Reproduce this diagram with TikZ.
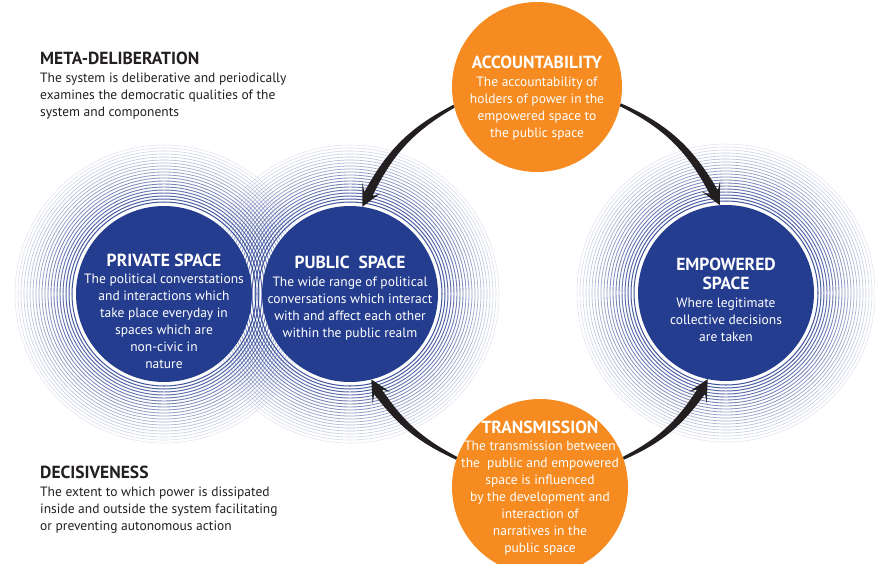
\documentclass[tikz,border=0pt]{standalone}
\usepackage{fontspec}
\setmainfont{PT Sans}
\usetikzlibrary{calc,positioning}

\definecolor{spaceblue}{RGB}{37,61,143}
\definecolor{linkorange}{RGB}{245,139,33}
\definecolor{ink}{RGB}{35,31,32}

\newcommand{\headfont}{\bfseries\fontsize{17.5}{19}\selectfont}
\newcommand{\bodyfont}{\fontsize{13.5}{17}\selectfont}

\pgfdeclarelayer{rings}
\pgfdeclarelayer{arrows}
\pgfsetlayers{rings,arrows,main}

% tapered arrow bending round the hub: tail, tip, turn, out bend, back bend
\newcommand{\swoosh}[5]{%
  \coordinate (sw-tip) at (#2);
  \coordinate (sw-base) at ($(sw-tip)!14pt!#3:(hub)$);
  \coordinate (sw-barb) at ($(sw-tip)!21pt!#3:(hub)$);
  \fill[ink] ($(#1)!-1.5pt!(hub)$) to[#4] ($(sw-base)!-4.5pt!(hub)$)
    -- ($(sw-barb)!-10.5pt!(hub)$) -- (sw-tip) -- ($(sw-barb)!10.5pt!(hub)$)
    -- ($(sw-base)!4.5pt!(hub)$) to[#5] ($(#1)!1.5pt!(hub)$) -- cycle;
}

\begin{document}
\begin{tikzpicture}[x=1pt, y=-1pt,
  bluedisc/.style={circle, fill=spaceblue, minimum size=176pt, inner sep=0pt, outer sep=0pt},
  orangedisc/.style={circle, fill=linkorange, minimum size=176pt, inner sep=0pt, outer sep=0pt},
  disctext/.style={text=white, align=center, font=\bodyfont, inner sep=0pt},
  sidetext/.style={text=ink, align=left, font=\bodyfont, inner sep=0pt, anchor=north west}]
  \useasboundingbox (0,0) rectangle (875,563);
  \coordinate (hub) at (537,290);

  % the three spaces
  \node[bluedisc] (priv) at (164,294) {};
  \node[bluedisc] (pub) at (350,294) {};
  \node[bluedisc] (emp) at (726,293) {};

  % fading rings round each space
  \begin{pgfonlayer}{rings}
    \foreach \s in {priv,pub,emp}
      \foreach \i in {1,...,20}
        \draw[spaceblue, draw opacity={0.85*(1-\i/22)+0.06}, line width={(1.05-0.025*\i)*1pt}]
          (\s.center) circle ({89+3*\i});
  \end{pgfonlayer}

  % the two linking processes
  \node[orangedisc, minimum size=170pt] (acc) at (537,87) {};
  \node[orangedisc] (trans) at (540,487) {};

  \begin{pgfonlayer}{arrows}
    \swoosh{acc.193}{pub.82}{90}{bend right=17}{bend left=17}
    \swoosh{acc.348}{emp.94}{-90}{bend left=18}{bend right=18}
    \swoosh{trans.161}{pub.284}{-90}{bend left=14}{bend right=14}
    \swoosh{trans.19}{emp.258}{90}{bend right=15}{bend left=15}
  \end{pgfonlayer}

  \node[disctext] (priv-text) at ($(priv)+(0,17)$)
    {{\headfont PRIVATE SPACE}\\The political converstations\\and interactions which\\
     take place everyday in\\spaces which are\\non-civic in\\nature};
  \node[disctext] (pub-text) at ($(pub)+(0,4)$)
    {{\headfont PUBLIC\ \ SPACE}\\[1pt]The wide range of political\\conversations which interact\\
     with and affect each other\\within the public realm};
  \node[disctext] (emp-text) at ($(emp)+(0,7)$)
    {{\headfont EMPOWERED}\\[1.5pt]{\headfont SPACE}\\[1.5pt]Where legitimate\\collective decisions\\are taken};
  \node[disctext] (acc-text) at ($(acc)+(0,11)$)
    {{\headfont ACCOUNTABILITY}\\[1pt]The accountability of\\holders of power in the\\
     empowered space to\\the public space};
  \node[disctext] (trans-text) at ($(trans)+(0,1)$)
    {{\headfont TRANSMISSION}\\The transmission between\\the\ \ public and empowered\\
     space is influenced\\by the development and\\interaction of\\narratives in the\\public space};

  % side notes
  \node[sidetext] (meta) at (40,52)
    {{\headfont META-DELIBERATION}\\[1pt]The system is deliberative and periodically\\
     examines the democratic qualities of the\\system and components};
  \node[sidetext] (decis) at (40,466)
    {{\headfont DECISIVENESS}\\[1pt]The extent to which power is dissipated\\
     inside and outside the system facilitating\\or preventing autonomous action};
\end{tikzpicture}
\end{document}
